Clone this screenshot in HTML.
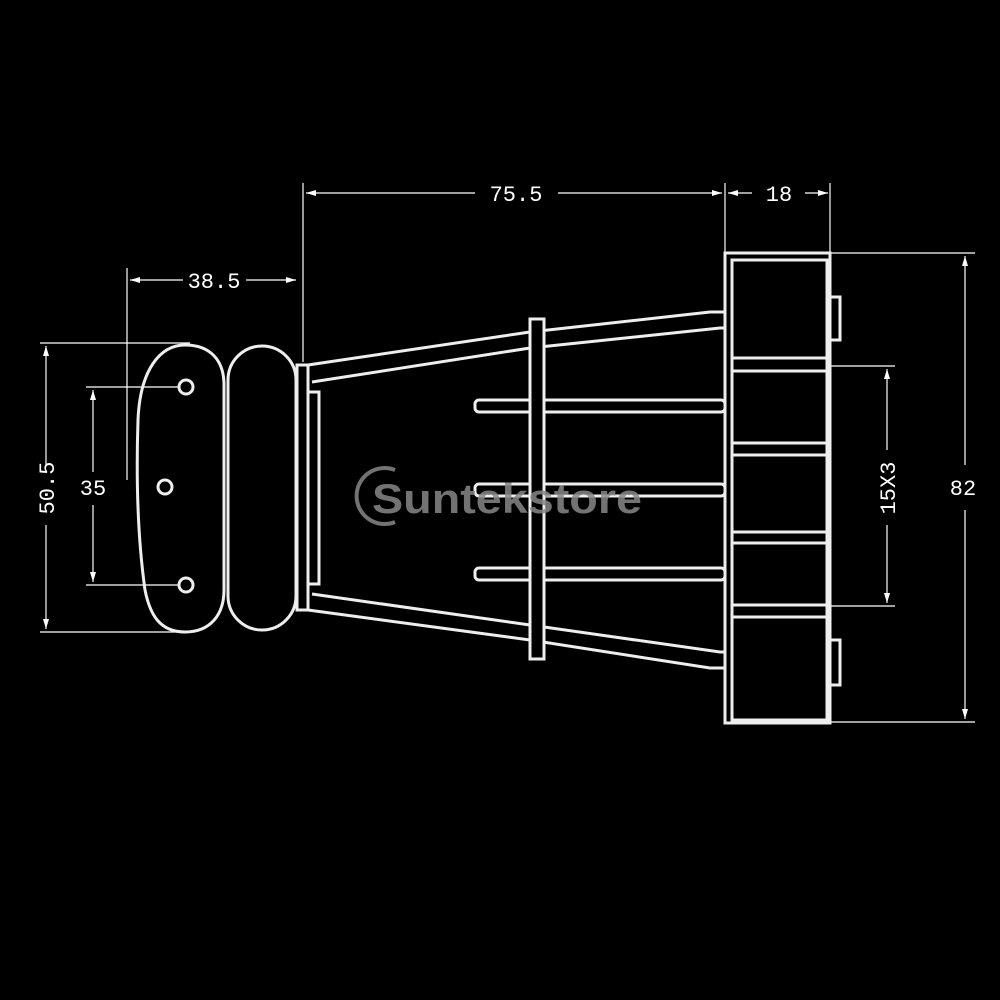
<!DOCTYPE html>
<html><head><style>html,body{margin:0;padding:0;background:#000;width:1000px;height:1000px;overflow:hidden}</style></head>
<body>
<svg width="1000" height="1000" viewBox="0 0 1000 1000" xmlns="http://www.w3.org/2000/svg">
<defs>
<marker id="a" viewBox="0 0 10 6" refX="10" refY="3" markerWidth="10" markerHeight="6" orient="auto-start-reverse" markerUnits="userSpaceOnUse"><path d="M0,0 L10,3 L0,6 Z" fill="#fff"/></marker>
</defs>
<rect width="1000" height="1000" fill="#000"/>
<g stroke="#fff" stroke-width="1.2" fill="none">
<line x1="303" y1="183" x2="303" y2="362"/>
<line x1="725" y1="183" x2="725" y2="253"/>
<line x1="830" y1="183" x2="830" y2="253"/>
<line x1="127" y1="268" x2="127" y2="480"/>
<line x1="40" y1="343" x2="190" y2="343"/>
<line x1="40" y1="632" x2="190" y2="632"/>
<line x1="86" y1="387" x2="180" y2="387"/>
<line x1="86" y1="585" x2="180" y2="585"/>
<line x1="830" y1="253" x2="975" y2="253"/>
<line x1="830" y1="722" x2="975" y2="722"/>
<line x1="830" y1="366" x2="895" y2="366"/>
<line x1="830" y1="606" x2="895" y2="606"/>
<line x1="306" y1="193" x2="475" y2="193" marker-start="url(#a)"/>
<line x1="558" y1="193" x2="722" y2="193" marker-end="url(#a)"/>
<line x1="728" y1="193" x2="752" y2="193" marker-start="url(#a)"/>
<line x1="805" y1="193" x2="828" y2="193" marker-end="url(#a)"/>
<line x1="130" y1="280" x2="183" y2="280" marker-start="url(#a)"/>
<line x1="246" y1="280" x2="296" y2="280" marker-end="url(#a)"/>
<line x1="46" y1="346" x2="46" y2="465" marker-start="url(#a)"/>
<line x1="46" y1="525" x2="46" y2="629" marker-end="url(#a)"/>
<line x1="93" y1="390" x2="93" y2="472" marker-start="url(#a)"/>
<line x1="93" y1="505" x2="93" y2="582" marker-end="url(#a)"/>
<line x1="887" y1="369" x2="887" y2="450" marker-start="url(#a)"/>
<line x1="887" y1="525" x2="887" y2="603" marker-end="url(#a)"/>
<line x1="965" y1="256" x2="965" y2="465" marker-start="url(#a)"/>
<line x1="965" y1="510" x2="965" y2="719" marker-end="url(#a)"/>
</g>
<g stroke="#eee" stroke-width="3" fill="none">
<path d="M185,345 C210,345 224,360 224,385 L224,590 C224,615 210,632 185,632 C160,632 150,615 145,590 C138,540 136,480 138,420 C140,370 160,345 185,345 Z"/>
<rect x="228" y="346" width="68" height="284" rx="34"/>
<circle cx="186" cy="387" r="7"/><circle cx="165" cy="487" r="7"/><circle cx="186" cy="585" r="7"/>
<rect x="297" y="365" width="11" height="245"/>
<rect x="308" y="392" width="11" height="192"/>
<polyline points="308,365 530,332 710,312 725,312"/>
<polyline points="312,382 530,348 720,328 725,328"/>
<polyline points="308,610 530,640 710,668 725,668"/>
<polyline points="312,594 530,625 720,652 725,652"/>
<rect x="475" y="400" width="250" height="12" rx="4"/>
<rect x="475" y="484" width="250" height="12" rx="4"/>
<rect x="475" y="568" width="250" height="12" rx="4"/>
<rect x="530" y="319" width="14" height="340" fill="#000"/>
<rect x="725" y="253" width="105" height="470"/>
<rect x="732" y="260" width="95" height="460"/>
<line x1="732" y1="358" x2="827" y2="358"/><line x1="732" y1="371" x2="827" y2="371"/>
<line x1="732" y1="443" x2="827" y2="443"/><line x1="732" y1="455" x2="827" y2="455"/>
<line x1="732" y1="532" x2="827" y2="532"/><line x1="732" y1="543" x2="827" y2="543"/>
<line x1="732" y1="605" x2="827" y2="605"/><line x1="732" y1="617" x2="827" y2="617"/>
<rect x="830" y="297" width="10" height="43"/>
<rect x="830" y="640" width="10" height="45"/>
</g>
<g fill="#888" opacity="0.85">
<path d="M395,470 A28,28 0 1 0 395,522" stroke="#888" stroke-width="4" fill="none"/>
<text x="372" y="513" font-family="Liberation Sans, sans-serif" font-weight="bold" font-size="42" textLength="270" lengthAdjust="spacingAndGlyphs">Suntekstore</text>
</g>
<g fill="#fff" font-family="Liberation Mono, monospace" font-size="22">
<text x="516" y="201" text-anchor="middle">75.5</text>
<text x="779" y="201" text-anchor="middle">18</text>
<text x="214" y="288" text-anchor="middle">38.5</text>
<text x="93" y="495" text-anchor="middle">35</text>
<text transform="translate(54,488) rotate(-90)" text-anchor="middle">50.5</text>
<text transform="translate(895,488) rotate(-90)" text-anchor="middle">15X3</text>
<text x="963" y="495" text-anchor="middle">82</text>
</g>
</svg>
</body></html>
